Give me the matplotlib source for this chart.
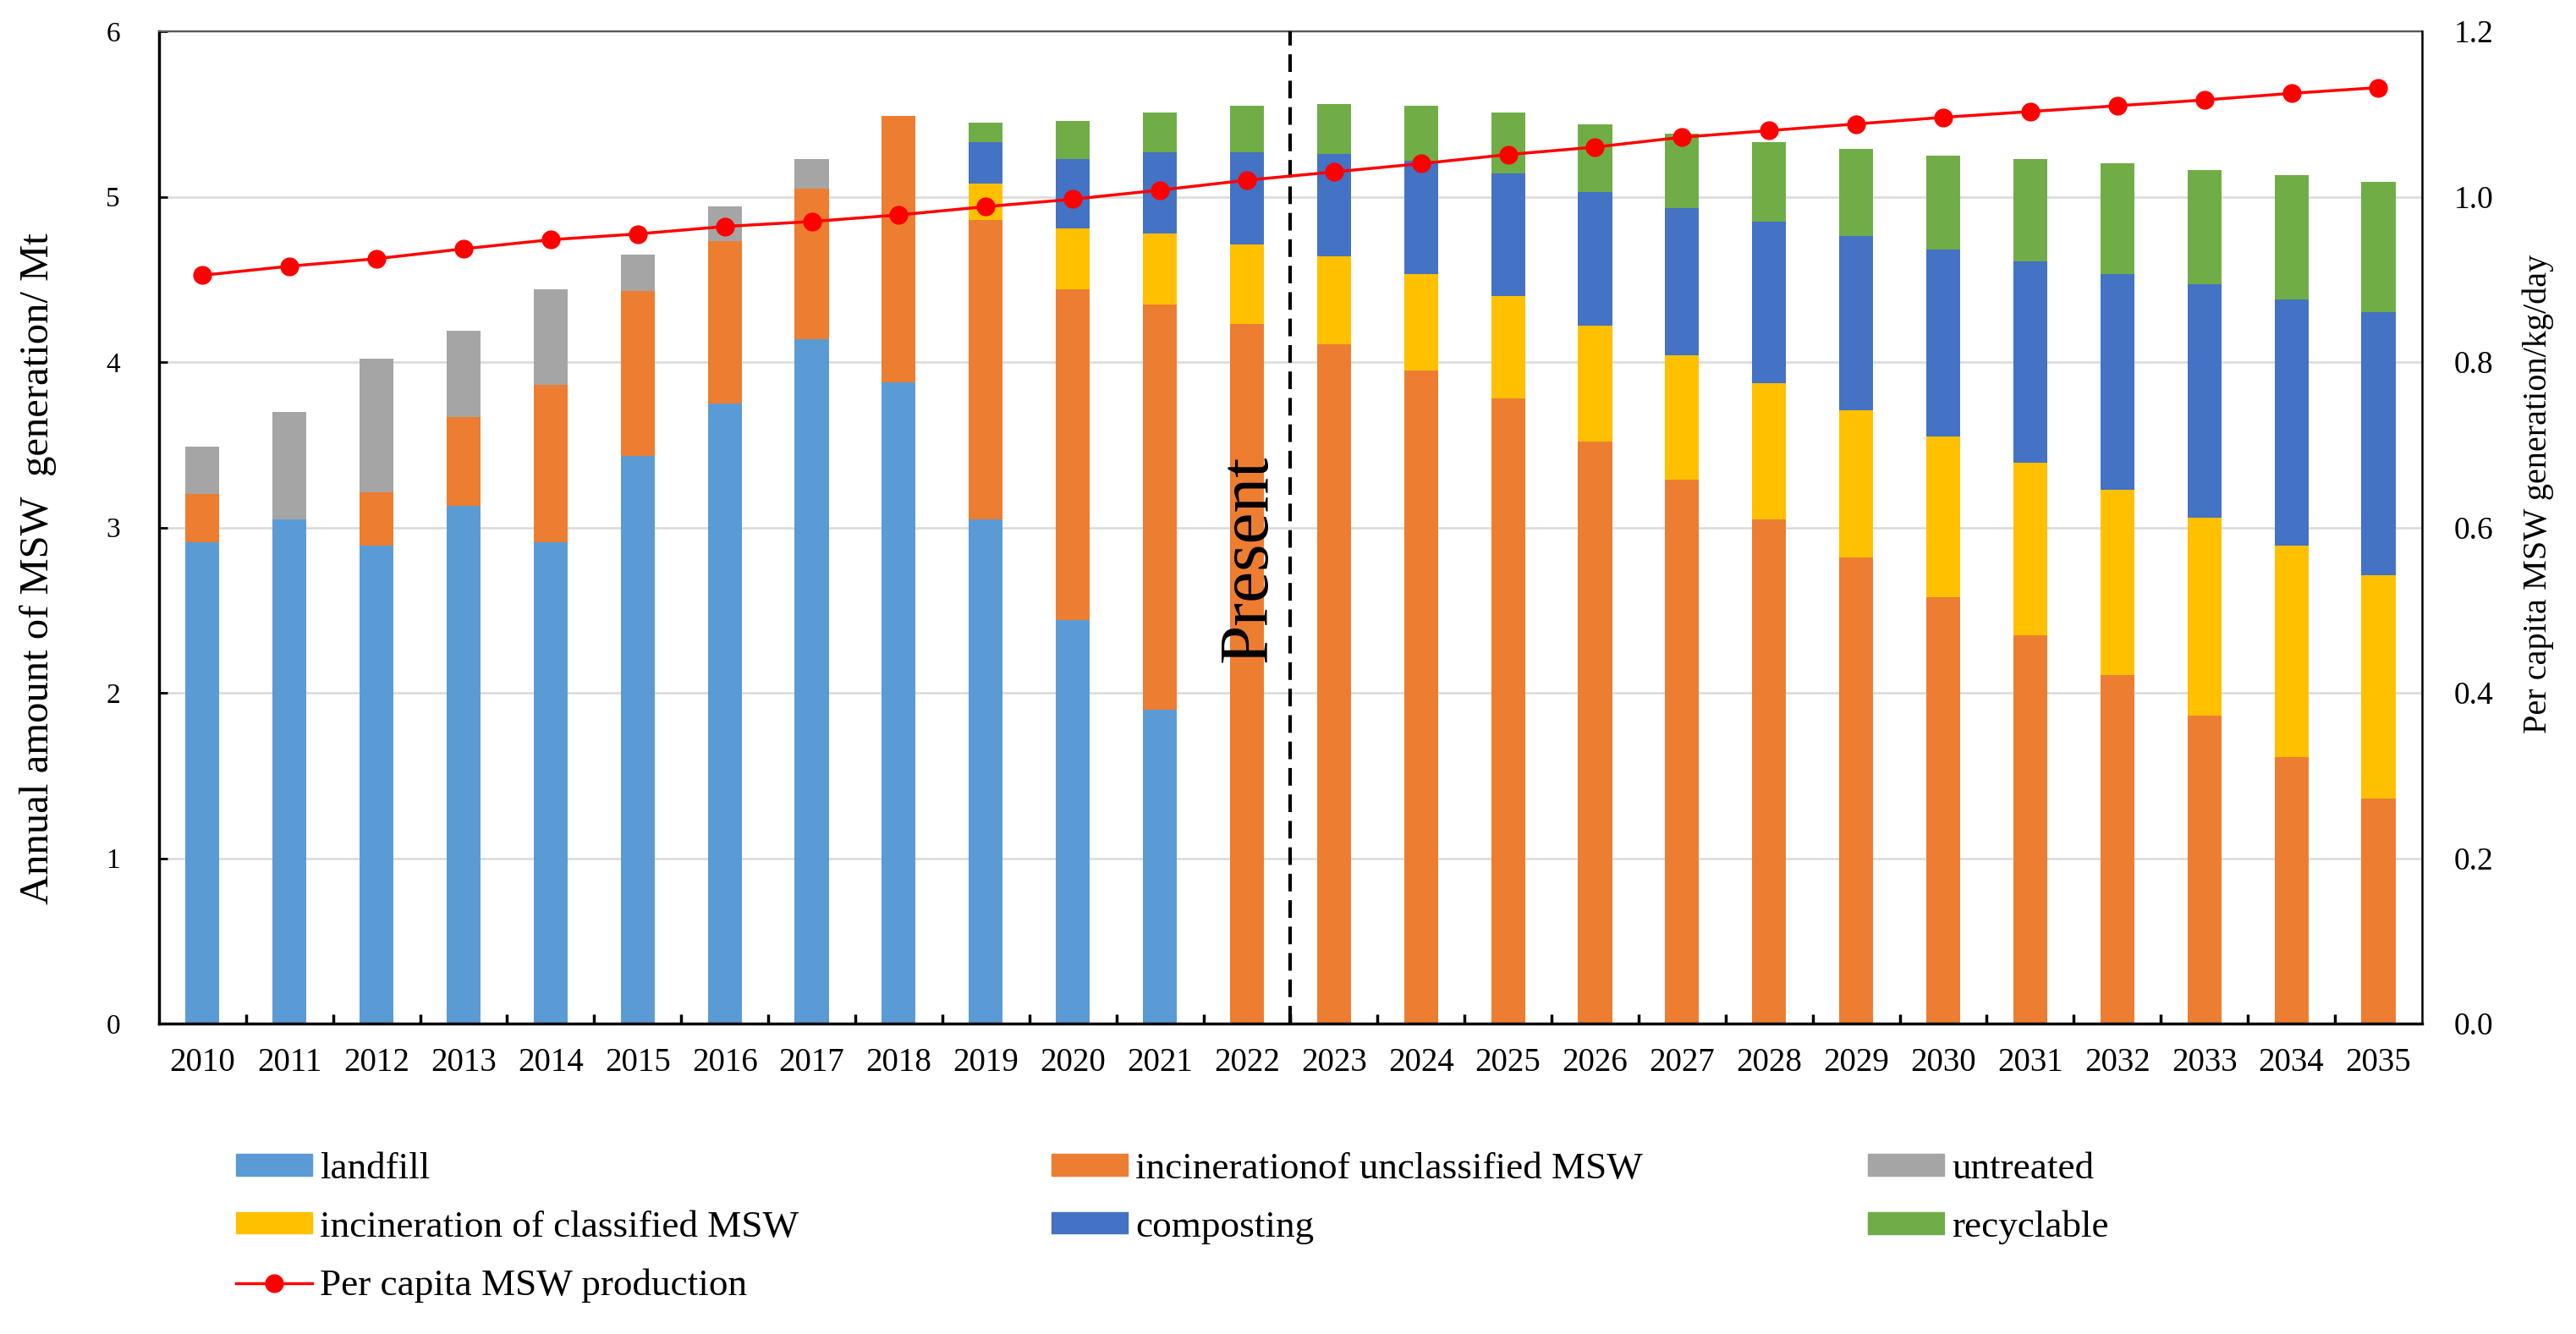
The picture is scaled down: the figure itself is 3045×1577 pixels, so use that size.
import numpy as np
import matplotlib
matplotlib.use("Agg")
import matplotlib.pyplot as plt
import matplotlib.patches as mpatches
from matplotlib.lines import Line2D
from matplotlib.ticker import FormatStrFormatter

plt.rcParams['font.family'] = ['Liberation Serif', 'DejaVu Serif']

years = [str(y) for y in range(2010, 2036)]

landfill = [2.91, 3.05, 2.89, 3.13, 2.91, 3.43, 3.75, 4.14, 3.88, 3.05, 2.44, 1.90,
            0, 0, 0, 0, 0, 0, 0, 0, 0, 0, 0, 0, 0, 0]
incin_unclassified = [0.29, 0.00, 0.32, 0.54, 0.95, 1.00, 0.98, 0.91, 1.61, 1.81, 2.00, 2.45,
                      4.23, 4.11, 3.95, 3.78, 3.52, 3.29, 3.05, 2.82, 2.58, 2.35, 2.11, 1.86, 1.61, 1.36]
untreated = [0.29, 0.65, 0.81, 0.52, 0.58, 0.22, 0.21, 0.18, 0, 0, 0, 0,
             0, 0, 0, 0, 0, 0, 0, 0, 0, 0, 0, 0, 0, 0]
incin_classified = [0, 0, 0, 0, 0, 0, 0, 0, 0, 0.22, 0.37, 0.43,
                    0.48, 0.53, 0.58, 0.62, 0.70, 0.75, 0.82, 0.89, 0.97, 1.04, 1.12, 1.20, 1.28, 1.35]
composting = [0, 0, 0, 0, 0, 0, 0, 0, 0, 0.25, 0.42, 0.49,
              0.56, 0.62, 0.69, 0.74, 0.81, 0.89, 0.98, 1.05, 1.13, 1.22, 1.30, 1.41, 1.49, 1.59]
recyclable = [0, 0, 0, 0, 0, 0, 0, 0, 0, 0.12, 0.23, 0.24,
              0.28, 0.30, 0.33, 0.37, 0.41, 0.45, 0.48, 0.53, 0.57, 0.62, 0.67, 0.69, 0.75, 0.79]
per_capita = [0.905, 0.916, 0.925, 0.937, 0.948, 0.955, 0.964, 0.970, 0.978, 0.988, 0.997, 1.008,
              1.020, 1.030, 1.040, 1.051, 1.060, 1.072, 1.080, 1.088, 1.096, 1.103, 1.110, 1.117, 1.125, 1.132]

series = [
    ("landfill", landfill, "#5B9BD5"),
    ("incinerationof unclassified MSW", incin_unclassified, "#ED7D31"),
    ("untreated", untreated, "#A5A5A5"),
    ("incineration of classified MSW", incin_classified, "#FFC000"),
    ("composting", composting, "#4472C4"),
    ("recyclable", recyclable, "#70AD47"),
]

fig = plt.figure(figsize=(30.45, 15.77), dpi=100)
ax = fig.add_axes([0.0617, 0.2327, 0.8785, 0.7438])

x = np.arange(len(years))
bottom = np.zeros(len(years))
for name, vals, col in series:
    v = np.array(vals, dtype=float)
    ax.bar(x, v, width=0.39, bottom=bottom, color=col, label=name, zorder=2)
    bottom += v

ax.set_xlim(-0.5, len(years) - 0.5)
ax.set_ylim(0, 6)
ax.set_yticks(range(0, 7))
ax.set_xticks(x)
ax.set_xticklabels(years)
ax.set_xticks(x[:-1] + 0.5, minor=True)
ax.tick_params(axis='x', which='major', length=0, pad=20, labelsize=28)
ax.tick_params(axis='x', which='minor', direction='in', length=8, width=2.5)
ax.tick_params(axis='y', direction='in', length=7, width=2, pad=33, labelsize=24)
ax.yaxis.grid(True, color='#D9D9D9', lw=1.8, zorder=0)
ax.set_axisbelow(True)

for s in ['left', 'bottom']:
    ax.spines[s].set_linewidth(2.5)
    ax.spines[s].set_color('black')
ax.spines['top'].set_color('#595959')
ax.spines['top'].set_linewidth(1.6)
ax.spines['right'].set_visible(False)

ax.axvline(12.5, color='black', ls=(0, (5, 2.5)), lw=3.0, zorder=4)
ax.text(12.03, 2.81, 'Present', rotation=90, fontsize=60, ha='center', va='center', zorder=6)

ax2 = ax.twinx()
ax2.set_ylim(0, 1.2)
ax2.set_yticks(np.arange(0, 1.21, 0.2))
ax2.yaxis.set_major_formatter(FormatStrFormatter('%.1f'))
ax2.tick_params(axis='y', length=0, pad=27, labelsize=27)
for s in ['left', 'bottom', 'top']:
    ax2.spines[s].set_visible(False)
ax2.spines['right'].set_color('black')
ax2.spines['right'].set_linewidth(1.8)
ax2.plot(x, per_capita, color='#FF0000', lw=2.5, marker='o', ms=15, zorder=5,
         label='Per capita MSW production')

fig.text(45 / 3045, 1 - 672 / 1577, 'Annual amount of MSW  generation/ Mt', rotation=90,
         fontsize=35, ha='center', va='center')
fig.text(3000 / 3045, 1 - 584 / 1577, 'Per capita MSW generation/kg/day', rotation=90,
         fontsize=29, ha='center', va='center')

ph = {name: mpatches.Patch(color=col) for name, _, col in series}
line_h = Line2D([], [], color='#FF0000', lw=2.5, marker='o', ms=15)
columns = [
    ([ph["landfill"], ph["incineration of classified MSW"], line_h],
     ["landfill", "incineration of classified MSW", "Per capita MSW production"], 279),
    ([ph["incinerationof unclassified MSW"], ph["composting"]],
     ["incinerationof unclassified MSW", "composting"], 1243),
    ([ph["untreated"], ph["recyclable"]], ["untreated", "recyclable"], 2208),
]
for hs, ls, xp in columns:
    fig.legend(hs, ls, loc='upper left', bbox_to_anchor=(xp / 3045, 0.1365),
               frameon=False, borderpad=0, borderaxespad=0, handlelength=2.0,
               handleheight=0.5, handletextpad=0.2, labelspacing=0.64, fontsize=32.5)

fig.savefig('out.png', dpi=100)
